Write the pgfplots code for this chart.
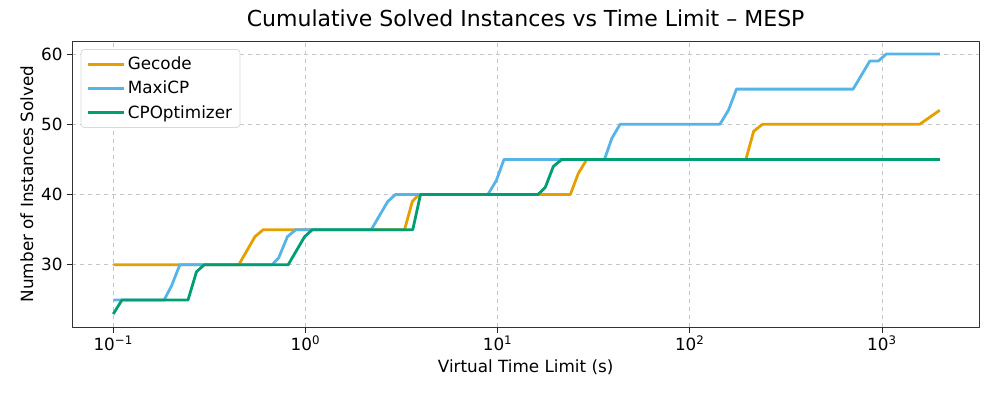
\documentclass[border=0pt]{standalone}
\usepackage{pgfplots}
\pgfplotsset{compat=1.18}
\usepackage{fontspec}
\setmainfont{DejaVu Sans}
\definecolor{cgec}{HTML}{E69F00}
\definecolor{cmax}{HTML}{56B4E9}
\definecolor{ccpo}{HTML}{009E73}
\begin{document}
\begin{tikzpicture}
\path[use as bounding box] (-54.2pt,-54pt) rectangle (693.5pt,245.25pt);
\begin{axis}[
  at={(0,0)}, anchor=south west,
  scale only axis, width=680pt, height=214.5pt,
  xmode=log, xmin=0.0612, xmax=3200, ymin=21.15, ymax=61.85,
  log basis x=10,
  xtick={0.1,1,10,100,1000},
  xticklabels={10\textsuperscript{−1},10\textsuperscript{0},10\textsuperscript{1},10\textsuperscript{2},10\textsuperscript{3}},
  ytick={30,40,50,60},
  /pgf/number format/assume math mode=true,
  tick label style={font=\fontsize{12.6}{14}\selectfont},
  xticklabel style={inner sep=1.5pt},
  yticklabel style={inner sep=2pt},
  label style={font=\fontsize{12.6}{14}\selectfont},
  title style={font=\fontsize{16.5}{19}\selectfont, at={(axis description cs:0.5,1)}, yshift=11.25pt, anchor=center},
  title={Cumulative Solved Instances vs Time Limit – MESP},
  xlabel={Virtual Time Limit (s)},
  ylabel={Number of Instances Solved},
  x label style={at={(axis description cs:0.5,0)}, yshift=-30pt, anchor=center},
  y label style={at={(axis description cs:-0.05,0.5)}, anchor=center},
  tick align=outside, tick pos=left,
  major tick length=4.2pt, minor tick length=2.4pt,
  every tick/.style={black!85, line width=0.6pt},
  axis line style={line width=0.6pt, black!80},
  grid=major,
  major grid style={dashed, gray!45, line width=0.5pt},
  legend style={at={(axis description cs:0.0093,0.972)}, anchor=north west,
    draw=gray!30, line width=0.6pt, rounded corners=2.5pt, font=\fontsize{12.6}{14}\selectfont,
    row sep=3.2pt, inner xsep=4pt, inner ysep=3.5pt},
  legend cell align=left,
  every axis legend/.append style={legend image code/.code={\draw[#1, line width=2.1pt] (0pt,0pt) -- (27pt,0pt);}},
  line width=2.1pt, line join=round,
]
\addplot[cgec] coordinates {
(0.1,30) (0.219,30) (0.45,30) (0.546,34) (0.603,35) (3.28,35) (3.6,39) (3.89,40)
(23.9,40) (26.3,43) (29.1,45) (196,45) (215,49) (239,50) (1572,50) (2000,52)};
\addlegendentry{Gecode}
\addplot[cmax] coordinates {
(0.1,25) (0.184,25) (0.201,27) (0.222,30) (0.67,30) (0.726,31) (0.806,34) (0.891,35)
(2.2,35) (2.68,39) (2.94,40) (8.9,40) (9.85,42) (10.8,45) (36,45) (39.3,48) (43.4,50)
(143.5,50) (159,52) (175,55) (708,55) (865,59) (958,59) (1054,60) (2000,60)};
\addlegendentry{MaxiCP}
\addplot[ccpo] coordinates {
(0.1,23) (0.111,25) (0.245,25) (0.271,29) (0.297,30) (0.813,30) (0.99,34) (1.086,35)
(3.62,35) (3.97,40) (16.2,40) (17.7,41) (19.5,44) (21.6,45) (2000,45)};
\addlegendentry{CPOptimizer}
\end{axis}
\end{tikzpicture}
\end{document}
